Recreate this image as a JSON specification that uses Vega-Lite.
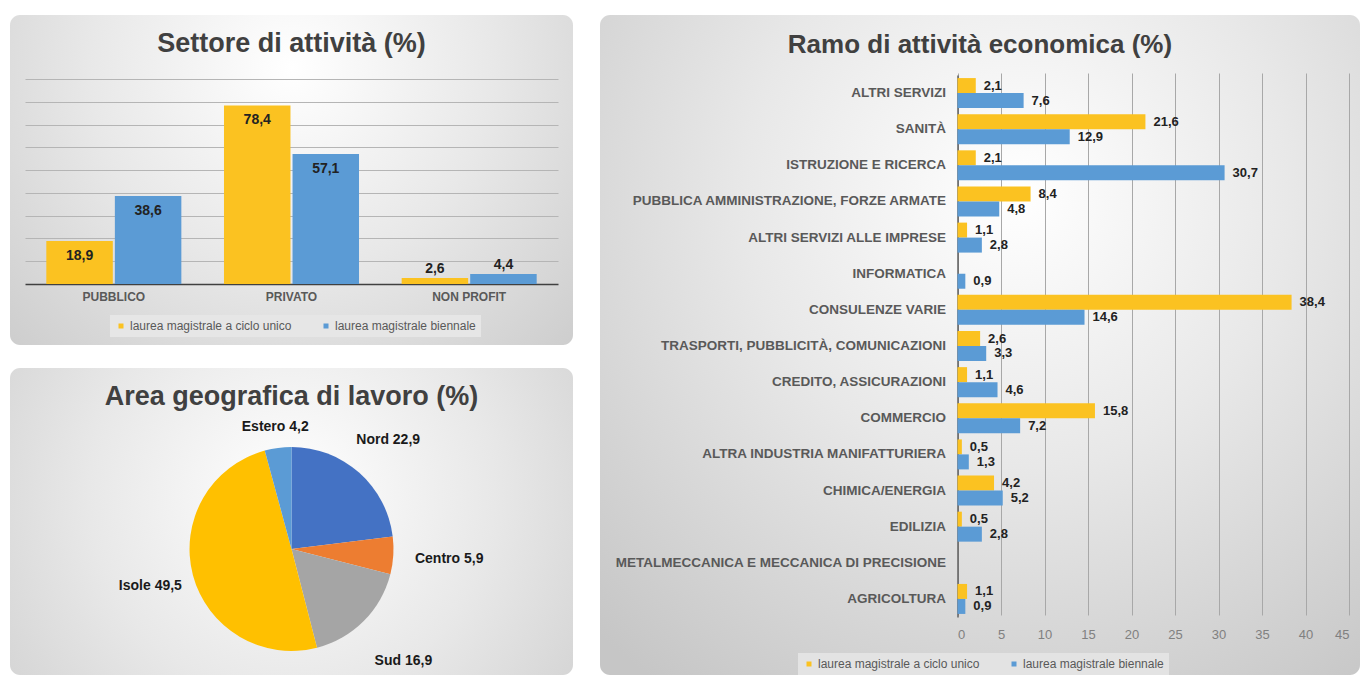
{
  "$schema": "https://vega.github.io/schema/vega-lite/v6.json",
  "background": "#ffffff",
  "padding": {"left": 10, "top": 15, "right": 0, "bottom": 0},
  "config": {
    "locale": {"number": {"decimal": ",", "thousands": ".", "grouping": [3], "currency": ["", " €"]}},
    "font": "Liberation Sans",
    "axis": {"labelFont": "Liberation Sans"},
    "legend": {"labelFont": "Liberation Sans", "labelLimit": 300},
    "title": {"font": "Liberation Sans"},
    "text": {"font": "Liberation Sans"}
  },
  "resolve": {"scale": {"color": "independent"}, "legend": {"color": "independent"}},
  "spacing": 27,
  "hconcat": [
    {
      "spacing": 23,
      "resolve": {"scale": {"color": "independent"}, "legend": {"color": "independent"}},
      "vconcat": [
        {
          "width": 563,
          "height": 330,
          "view": {
            "stroke": null,
            "cornerRadius": 10,
            "fill": {"gradient": "radial", "x1": 0.5, "y1": 0.3, "r1": 0, "x2": 0.5, "y2": 0.3, "r2": 0.8,
              "stops": [{"offset": 0, "color": "#ffffff"}, {"offset": 0.45, "color": "#e8e8e8"}, {"offset": 1, "color": "#c6c6c6"}]}
          },
          "title": {"text": "Settore di attività (%)", "fontSize": 27, "fontWeight": "bold", "color": "#404040", "anchor": "middle", "offset": -43},
          "data": {"values": [
            {"settore": "PUBBLICO", "laurea": "laurea magistrale a ciclo unico", "valore": 18.9},
            {"settore": "PUBBLICO", "laurea": "laurea magistrale biennale", "valore": 38.6},
            {"settore": "PRIVATO", "laurea": "laurea magistrale a ciclo unico", "valore": 78.4},
            {"settore": "PRIVATO", "laurea": "laurea magistrale biennale", "valore": 57.1},
            {"settore": "NON PROFIT", "laurea": "laurea magistrale a ciclo unico", "valore": 2.6},
            {"settore": "NON PROFIT", "laurea": "laurea magistrale biennale", "valore": 4.4}
          ]},
          "encoding": {
            "x": {"field": "settore", "type": "nominal", "sort": ["PUBBLICO", "PRIVATO", "NON PROFIT"],
              "scale": {"range": [15, 548], "paddingInner": 0.24, "paddingOuter": 0.12},
              "axis": {"title": null, "orient": "bottom", "offset": -61, "domainColor": "#404040", "domainWidth": 1.5, "ticks": false,
                "labelFontSize": 12, "labelFontWeight": "bold", "labelColor": "#595959", "labelPadding": 7, "labelAngle": 0, "grid": false}},
            "xOffset": {"field": "laurea", "type": "nominal", "sort": ["laurea magistrale a ciclo unico", "laurea magistrale biennale"], "scale": {"paddingInner": 0.03}},
            "y": {"field": "valore", "type": "quantitative",
              "scale": {"domain": [0, 90], "range": [269, 64], "nice": false},
              "axis": {"title": null, "labels": false, "ticks": false, "domain": false, "grid": true, "gridColor": "#b5b5b5", "gridWidth": 1,
                "values": [10, 20, 30, 40, 50, 60, 70, 80, 90]}}
          },
          "layer": [
            {
              "mark": {"type": "bar"},
              "encoding": {
                "color": {"field": "laurea", "type": "nominal",
                  "scale": {"domain": ["laurea magistrale a ciclo unico", "laurea magistrale biennale"], "range": ["#FBC221", "#5B9BD5"]},
                  "legend": {"orient": "none", "legendX": 100, "legendY": 300, "direction": "horizontal", "title": null,
                    "fillColor": "#e6e6e6", "padding": 5, "symbolType": "square", "symbolSize": 25, "labelFontSize": 12,
                    "labelColor": "#595959", "columnPadding": 28, "labelOffset": 3, "labelLimit": 300}}
              }
            },
            {
              "transform": [{"filter": "datum.valore >= 10"}],
              "mark": {"type": "text", "baseline": "middle", "dy": 15, "fontSize": 14, "fontWeight": "bold", "color": "#222222"},
              "encoding": {"text": {"field": "valore", "type": "quantitative", "format": ".1f"}}
            },
            {
              "transform": [{"filter": "datum.valore < 10"}],
              "mark": {"type": "text", "baseline": "middle", "dy": -9, "fontSize": 14, "fontWeight": "bold", "color": "#222222"},
              "encoding": {"text": {"field": "valore", "type": "quantitative", "format": ".1f"}}
            }
          ]
        },
        {
          "width": 563,
          "height": 307,
          "view": {
            "stroke": null,
            "cornerRadius": 10,
            "fill": {"gradient": "radial", "x1": 0.5, "y1": 0.45, "r1": 0, "x2": 0.5, "y2": 0.45, "r2": 0.8,
              "stops": [{"offset": 0, "color": "#ffffff"}, {"offset": 0.45, "color": "#e8e8e8"}, {"offset": 1, "color": "#c6c6c6"}]}
          },
          "title": {"text": "Area geografica di lavoro (%)", "fontSize": 27, "fontWeight": "bold", "color": "#404040", "anchor": "middle", "offset": -43},
          "data": {"values": [
            {"area": "Nord", "valore": 22.9},
            {"area": "Centro", "valore": 5.9},
            {"area": "Sud", "valore": 16.9},
            {"area": "Isole", "valore": 49.5},
            {"area": "Estero", "valore": 4.2}
          ]},
          "transform": [{"window": [{"op": "row_number", "as": "ordine"}]}],
          "encoding": {
            "theta": {"field": "valore", "type": "quantitative", "stack": true},
            "order": {"field": "ordine", "type": "quantitative"}
          },
          "layer": [
            {
              "mark": {"type": "arc", "outerRadius": 102, "y": 181},
              "encoding": {
                "color": {"field": "area", "type": "nominal",
                  "scale": {"domain": ["Nord", "Centro", "Sud", "Isole", "Estero"], "range": ["#4472C4", "#ED7D31", "#A5A5A5", "#FFC000", "#5B9BD5"]},
                  "legend": null}
              }
            },
            {
              "mark": {"type": "text", "radius": 123, "y": 181, "fontSize": 14, "fontWeight": "bold", "color": "#1a1a1a",
                "text": {"expr": "datum.area == 'Estero' ? datum.area + ' ' + format(datum.valore, '.1f') : ''"}},
              "encoding": {"detail": {"field": "area", "type": "nominal"}}
            },
            {
              "mark": {"type": "text", "radius": 146, "y": 181, "fontSize": 14, "fontWeight": "bold", "color": "#1a1a1a",
                "text": {"expr": "(datum.area == 'Nord' || datum.area == 'Isole') ? datum.area + ' ' + format(datum.valore, '.1f') : ''"}},
              "encoding": {"detail": {"field": "area", "type": "nominal"}}
            },
            {
              "mark": {"type": "text", "radius": 158, "y": 181, "fontSize": 14, "fontWeight": "bold", "color": "#1a1a1a",
                "text": {"expr": "(datum.area == 'Centro' || datum.area == 'Sud') ? datum.area + ' ' + format(datum.valore, '.1f') : ''"}},
              "encoding": {"detail": {"field": "area", "type": "nominal"}}
            }
          ]
        }
      ]
    },
    {
      "width": 760,
      "height": 660,
      "view": {
        "stroke": null,
        "cornerRadius": 10,
        "fill": {"gradient": "radial", "x1": 0.55, "y1": 0.3, "r1": 0, "x2": 0.55, "y2": 0.3, "r2": 0.8,
          "stops": [{"offset": 0, "color": "#ffffff"}, {"offset": 0.45, "color": "#e8e8e8"}, {"offset": 1, "color": "#c6c6c6"}]}
      },
      "title": {"text": "Ramo di attività economica (%)", "fontSize": 26, "fontWeight": "bold", "color": "#404040", "anchor": "middle", "offset": -43},
      "data": {"values": [
        {"ramo": "ALTRI SERVIZI", "laurea": "laurea magistrale a ciclo unico", "valore": 2.1},
        {"ramo": "ALTRI SERVIZI", "laurea": "laurea magistrale biennale", "valore": 7.6},
        {"ramo": "SANITÀ", "laurea": "laurea magistrale a ciclo unico", "valore": 21.6},
        {"ramo": "SANITÀ", "laurea": "laurea magistrale biennale", "valore": 12.9},
        {"ramo": "ISTRUZIONE E RICERCA", "laurea": "laurea magistrale a ciclo unico", "valore": 2.1},
        {"ramo": "ISTRUZIONE E RICERCA", "laurea": "laurea magistrale biennale", "valore": 30.7},
        {"ramo": "PUBBLICA AMMINISTRAZIONE, FORZE ARMATE", "laurea": "laurea magistrale a ciclo unico", "valore": 8.4},
        {"ramo": "PUBBLICA AMMINISTRAZIONE, FORZE ARMATE", "laurea": "laurea magistrale biennale", "valore": 4.8},
        {"ramo": "ALTRI SERVIZI ALLE IMPRESE", "laurea": "laurea magistrale a ciclo unico", "valore": 1.1},
        {"ramo": "ALTRI SERVIZI ALLE IMPRESE", "laurea": "laurea magistrale biennale", "valore": 2.8},
        {"ramo": "INFORMATICA", "laurea": "laurea magistrale biennale", "valore": 0.9},
        {"ramo": "CONSULENZE VARIE", "laurea": "laurea magistrale a ciclo unico", "valore": 38.4},
        {"ramo": "CONSULENZE VARIE", "laurea": "laurea magistrale biennale", "valore": 14.6},
        {"ramo": "TRASPORTI, PUBBLICITÀ, COMUNICAZIONI", "laurea": "laurea magistrale a ciclo unico", "valore": 2.6},
        {"ramo": "TRASPORTI, PUBBLICITÀ, COMUNICAZIONI", "laurea": "laurea magistrale biennale", "valore": 3.3},
        {"ramo": "CREDITO, ASSICURAZIONI", "laurea": "laurea magistrale a ciclo unico", "valore": 1.1},
        {"ramo": "CREDITO, ASSICURAZIONI", "laurea": "laurea magistrale biennale", "valore": 4.6},
        {"ramo": "COMMERCIO", "laurea": "laurea magistrale a ciclo unico", "valore": 15.8},
        {"ramo": "COMMERCIO", "laurea": "laurea magistrale biennale", "valore": 7.2},
        {"ramo": "ALTRA INDUSTRIA MANIFATTURIERA", "laurea": "laurea magistrale a ciclo unico", "valore": 0.5},
        {"ramo": "ALTRA INDUSTRIA MANIFATTURIERA", "laurea": "laurea magistrale biennale", "valore": 1.3},
        {"ramo": "CHIMICA/ENERGIA", "laurea": "laurea magistrale a ciclo unico", "valore": 4.2},
        {"ramo": "CHIMICA/ENERGIA", "laurea": "laurea magistrale biennale", "valore": 5.2},
        {"ramo": "EDILIZIA", "laurea": "laurea magistrale a ciclo unico", "valore": 0.5},
        {"ramo": "EDILIZIA", "laurea": "laurea magistrale biennale", "valore": 2.8},
        {"ramo": "AGRICOLTURA", "laurea": "laurea magistrale a ciclo unico", "valore": 1.1},
        {"ramo": "AGRICOLTURA", "laurea": "laurea magistrale biennale", "valore": 0.9}
      ]},
      "encoding": {
        "y": {"field": "ramo", "type": "nominal",
          "sort": ["ALTRI SERVIZI", "SANITÀ", "ISTRUZIONE E RICERCA", "PUBBLICA AMMINISTRAZIONE, FORZE ARMATE", "ALTRI SERVIZI ALLE IMPRESE", "INFORMATICA", "CONSULENZE VARIE", "TRASPORTI, PUBBLICITÀ, COMUNICAZIONI", "CREDITO, ASSICURAZIONI", "COMMERCIO", "ALTRA INDUSTRIA MANIFATTURIERA", "CHIMICA/ENERGIA", "EDILIZIA", "METALMECCANICA E MECCANICA DI PRECISIONE", "AGRICOLTURA"],
          "scale": {"domain": ["ALTRI SERVIZI", "SANITÀ", "ISTRUZIONE E RICERCA", "PUBBLICA AMMINISTRAZIONE, FORZE ARMATE", "ALTRI SERVIZI ALLE IMPRESE", "INFORMATICA", "CONSULENZE VARIE", "TRASPORTI, PUBBLICITÀ, COMUNICAZIONI", "CREDITO, ASSICURAZIONI", "COMMERCIO", "ALTRA INDUSTRIA MANIFATTURIERA", "CHIMICA/ENERGIA", "EDILIZIA", "METALMECCANICA E MECCANICA DI PRECISIONE", "AGRICOLTURA"],
            "range": [60, 602], "paddingInner": 0.17, "paddingOuter": 0.085},
          "axis": {"title": null, "orient": "left", "offset": -357.5, "domainColor": "#606060", "domainWidth": 1.5, "ticks": false, "grid": false,
            "labelFontSize": 13.5, "labelFontWeight": "bold", "labelColor": "#595959", "labelPadding": 12, "labelLimit": 400}},
        "yOffset": {"field": "laurea", "type": "nominal", "sort": ["laurea magistrale a ciclo unico", "laurea magistrale biennale"]},
        "x": {"field": "valore", "type": "quantitative",
          "scale": {"domain": [0, 45], "range": [357.5, 749], "nice": false},
          "axis": {"title": null, "orient": "bottom", "offset": -58, "domain": false, "ticks": false, "grid": true, "gridColor": "#a8a8a8", "gridWidth": 1,
            "values": [0, 5, 10, 15, 20, 25, 30, 35, 40, 45], "labelFontSize": 13, "labelColor": "#808080", "labelPadding": 11}}
      },
      "layer": [
        {
          "mark": {"type": "bar"},
          "encoding": {
            "color": {"field": "laurea", "type": "nominal",
              "scale": {"domain": ["laurea magistrale a ciclo unico", "laurea magistrale biennale"], "range": ["#FBC221", "#5B9BD5"]},
              "legend": {"orient": "none", "legendX": 198, "legendY": 638, "direction": "horizontal", "title": null,
                "fillColor": "#e3e3e3", "padding": 5, "symbolType": "square", "symbolSize": 25, "labelFontSize": 12,
                "labelColor": "#595959", "columnPadding": 28, "labelOffset": 3, "labelLimit": 300}}
          }
        },
        {
          "mark": {"type": "text", "align": "left", "baseline": "middle", "dx": 8, "fontSize": 13, "fontWeight": "bold", "color": "#222222"},
          "encoding": {"text": {"field": "valore", "type": "quantitative", "format": ".1f"}}
        }
      ]
    }
  ]
}
